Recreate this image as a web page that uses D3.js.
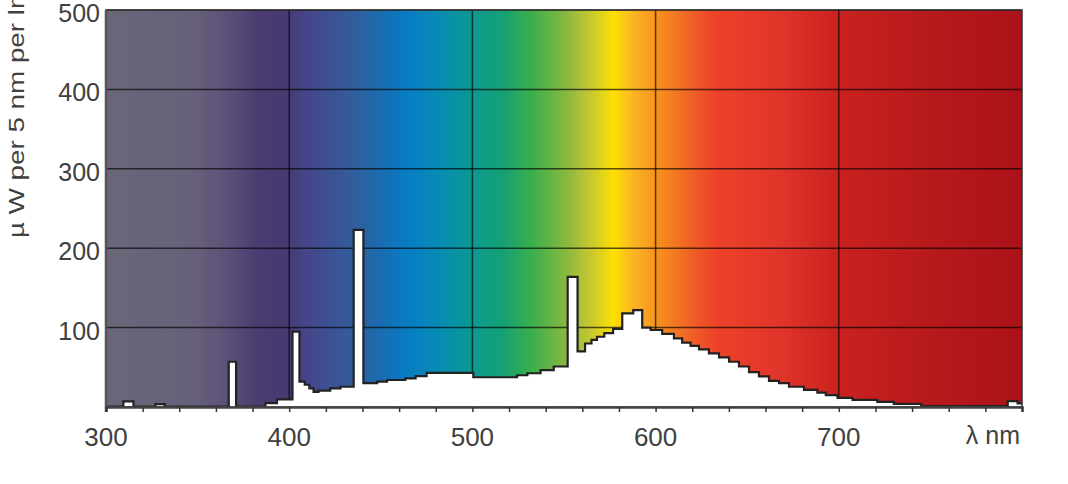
<!DOCTYPE html>
<html>
<head>
<meta charset="utf-8">
<script src="https://cdn.jsdelivr.net/npm/d3@7"></script>
<style>
  body { margin: 0; background: #fff; }
  text { font-family: "Liberation Sans", Arial, sans-serif; fill: #404040; }
</style>
</head>
<body>
<div id="spectrum"></div>
<script>
// left edge of each step (nm) and its power (uW per 5 nm per lm)
const stepStart = [300, 309.5, 315, 327, 332, 367, 371, 387, 393.3, 401.8,
  405.6, 408.5, 411, 413.3, 416, 422.4, 428, 435.2, 440.5, 448,
  453.4, 463.4, 469, 475, 500.5, 524.4, 530, 537.2, 544.4, 552,
  557.4, 561.5, 565, 568, 572, 576.8, 581.8, 587.8, 592.7, 597.3,
  603.6, 610, 614.5, 619.1, 623.7, 629.1, 634.6, 640.1, 645.5, 651,
  656.4, 661.9, 667.4, 672.8, 681, 688.3, 692.9, 699.3, 707.5, 721,
  730, 745, 792.2, 797.6];
const stepPower = [0.5, 7, 0.5, 3.5, 0.5, 57, 0.5, 5, 9.5, 95,
  32, 28, 23.5, 19, 20.5, 23.5, 25.5, 223, 30, 32,
  34, 36, 39, 43, 37.5, 40, 42.5, 46.5, 51, 164,
  70, 80, 84.5, 88.5, 93, 98.5, 118, 122, 100, 97,
  92, 86.5, 81, 77, 72.5, 67.5, 62.5, 57, 51, 44,
  38.5, 33, 30, 25.5, 21.5, 18, 15, 11.5, 9, 6.5,
  4, 1, 7.5, 4.5];

// visible spectrum colours behind the plot
const colourNm = [300, 348, 367, 383, 398, 410, 434, 450, 463, 479, 498, 517, 533, 552, 565, 577, 588, 600, 622, 633, 667, 700, 747, 800];
const colourHex = ["#6a6678", "#67607a", "#5b5078", "#4b3b72", "#473a70", "#45468a", "#335c9c", "#1a6cb0", "#087cc3", "#0789b8", "#0a9896", "#16a172", "#3caf4b", "#8cb940", "#c9c82f", "#fde002", "#fbb424", "#f7941d", "#ef5a28", "#ed4228", "#e0352a", "#c9221f", "#b81a1c", "#ab1218"];

const xTicks = [300, 400, 500, 600, 700];
const xMinorTicks = [300, 320, 340, 360, 380, 400, 420, 440, 460, 480, 500, 520, 540, 560, 580, 600, 620, 640, 660, 680, 700, 720, 740, 760, 780, 800];
const yTicks = [100, 200, 300, 400, 500];

const margin = {top: 10, right: 46, bottom: 77, left: 106};
const width = 1068 - margin.left - margin.right;
const height = 484 - margin.top - margin.bottom;

const svg = d3.select("#spectrum")
  .append("svg")
    .attr("width", 1068)
    .attr("height", 484)
  .append("g")
    .attr("transform", `translate(${margin.left},${margin.top})`);

const x = d3.scaleLinear().domain([300, 800]).range([0, width]);
const y = d3.scaleLinear().domain([0, 500]).range([height, 0]);

// gradient background
const grad = svg.append("defs").append("linearGradient")
  .attr("id", "rainbow")
  .attr("gradientUnits", "userSpaceOnUse")
  .attr("x1", x(300)).attr("x2", x(800))
  .attr("y1", 0).attr("y2", 0);

grad.selectAll("stop")
  .data(colourNm)
  .join("stop")
    .attr("offset", d => (x(d) - x(300)) / (x(800) - x(300)))
    .attr("stop-color", (d, i) => colourHex[i]);

svg.append("rect")
  .attr("x", 0).attr("y", 0)
  .attr("width", width).attr("height", height)
  .attr("fill", "url(#rainbow)");

// grid
svg.append("g")
  .selectAll("line")
  .data(yTicks)
  .join("line")
    .attr("x1", 0).attr("x2", width)
    .attr("y1", d => y(d)).attr("y2", d => y(d))
    .attr("stroke", "#000").attr("stroke-opacity", 0.65).attr("stroke-width", 1.5);

svg.append("g")
  .selectAll("line")
  .data(xTicks.slice(1))
  .join("line")
    .attr("x1", d => x(d)).attr("x2", d => x(d))
    .attr("y1", 0).attr("y2", height)
    .attr("stroke", "#000").attr("stroke-opacity", 0.65).attr("stroke-width", 1.5);

// spectrum as white steps
const pts = stepStart.map((d, i) => [d, stepPower[i]]);
pts.push([800, stepPower[stepPower.length - 1]]);

svg.append("path")
  .datum(pts)
  .attr("fill", "#fff")
  .attr("d", d3.area()
    .curve(d3.curveStepAfter)
    .x(d => x(d[0]))
    .y0(y(0))
    .y1(d => y(d[1])));

svg.append("path")
  .datum(pts)
  .attr("fill", "none")
  .attr("stroke", "#222")
  .attr("stroke-width", 2.2)
  .attr("stroke-linejoin", "miter")
  .attr("d", d3.line()
    .curve(d3.curveStepAfter)
    .x(d => x(d[0]))
    .y(d => y(d[1])));

// frame
svg.append("rect")
  .attr("width", width).attr("height", height)
  .attr("fill", "none")
  .attr("stroke", "#333").attr("stroke-width", 1.5);

svg.append("line")
  .attr("x1", 0).attr("x2", 0).attr("y1", 0).attr("y2", height + 5)
  .attr("stroke", "#555").attr("stroke-width", 2.5);

// X axis
const xAxis = svg.append("g")
  .attr("transform", `translate(0,${height})`)
  .call(d3.axisBottom(x).tickValues(xMinorTicks).tickSize(5).tickFormat(""));
xAxis.select(".domain").attr("stroke", "#444").attr("stroke-width", 2.5);
xAxis.selectAll(".tick line").attr("stroke", "#333").attr("stroke-width", 1.5);

svg.append("g")
  .selectAll("text")
  .data(xTicks)
  .join("text")
    .attr("x", d => x(d))
    .attr("y", height + 39)
    .attr("text-anchor", "middle")
    .style("font-size", "26px")
    .text(d => d);

svg.append("text")
  .attr("x", x(800) - 2)
  .attr("y", height + 37)
  .attr("text-anchor", "end")
  .style("font-size", "25px")
  .text("λ nm");

// Y axis labels
svg.append("g")
  .selectAll("text")
  .data(yTicks)
  .join("text")
    .attr("x", -6)
    .attr("y", d => y(d))
    .attr("dy", "0.48em")
    .attr("text-anchor", "end")
    .style("font-size", "25px")
    .text(d => d);

svg.append("text")
  .attr("transform", `translate(${24 - margin.left},${238 - margin.top})rotate(-90)`)
  .attr("text-anchor", "start")
  .attr("textLength", 252)
  .attr("lengthAdjust", "spacingAndGlyphs")
  .style("font-size", "22px")
  .text("µ W per 5 nm per lm");
</script>
</body>
</html>
